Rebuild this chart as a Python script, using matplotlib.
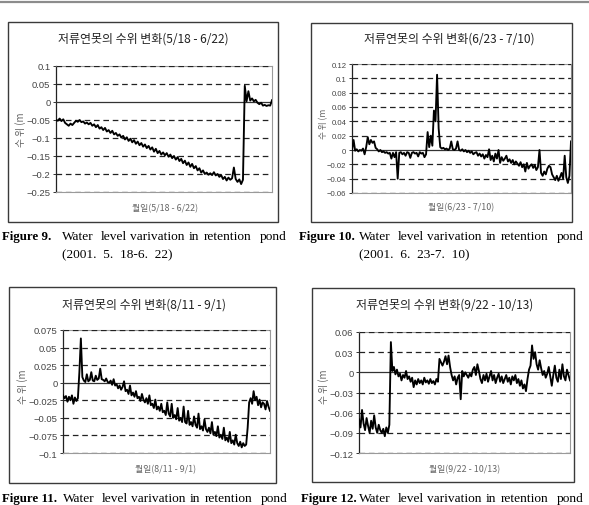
import matplotlib
matplotlib.use("Agg")
import matplotlib.pyplot as plt
from matplotlib.patches import Rectangle
from matplotlib.lines import Line2D

plt.rcParams['font.family'] = ['Noto Sans CJK KR', 'DejaVu Sans']
plt.rcParams['axes.unicode_minus'] = True

W, H = 589, 506

# ---------------- data ----------------
titles = ["저류연못의 수위 변화(5/18 - 6/22)", "저류연못의 수위 변화(6/23 - 7/10)",
          "저류연못의 수위 변화(8/11 - 9/1)", "저류연못의 수위 변화(9/22 - 10/13)"]
xlabels = ["월일(5/18 - 6/22)", "월일(6/23 - 7/10)", "월일(8/11 - 9/1)", "월일(9/22 - 10/13)"]
ylabel = "수 위 (m"
fig_nums = ["Figure 9.", "Figure 10.", "Figure 11.", "Figure 12."]
caption_words = ["Water", "level", "varivation", "in", "retention", "pond"]
dates = ["(2001.  5.  18-6.  22)", "(2001.  6.  23-7.  10)", "", ""]

yticks1 = [0.1, 0.05, 0, -0.05, -0.1, -0.15, -0.2, -0.25]
ylabels1 = ["0.1", "0.05", "0", "−0.05", "−0.1", "−0.15", "−0.2", "−0.25"]
yticks2 = [0.12, 0.1, 0.08, 0.06, 0.04, 0.02, 0, -0.02, -0.04, -0.06]
ylabels2 = ["0.12", "0.1", "0.08", "0.06", "0.04", "0.02", "0", "−0.02", "−0.04", "−0.06"]
yticks3 = [0.075, 0.05, 0.025, 0, -0.025, -0.05, -0.075, -0.1]
ylabels3 = ["0.075", "0.05", "0.025", "0", "−0.025", "−0.05", "−0.075", "−0.1"]
yticks4 = [0.06, 0.03, 0, -0.03, -0.06, -0.09, -0.12]
ylabels4 = ["0.06", "0.03", "0", "−0.03", "−0.06", "−0.09", "−0.12"]

level1 = [-0.050, -0.052, -0.046, -0.053, -0.048, -0.058, -0.062, -0.066, -0.060, -0.064,
          -0.058, -0.052, -0.055, -0.050, -0.056, -0.054, -0.060, -0.057, -0.062, -0.058,
          -0.066, -0.062, -0.070, -0.064, -0.074, -0.070, -0.078, -0.072, -0.082, -0.078,
          -0.086, -0.080, -0.090, -0.086, -0.094, -0.090, -0.099, -0.094, -0.104, -0.098,
          -0.108, -0.102, -0.112, -0.106, -0.116, -0.110, -0.120, -0.114, -0.124, -0.118,
          -0.128, -0.122, -0.132, -0.126, -0.138, -0.130, -0.142, -0.136, -0.146, -0.140,
          -0.148, -0.142, -0.152, -0.146, -0.156, -0.150, -0.160, -0.153, -0.164, -0.158,
          -0.170, -0.163, -0.175, -0.168, -0.180, -0.172, -0.184, -0.178, -0.190, -0.184,
          -0.196, -0.190, -0.200, -0.196, -0.202, -0.198, -0.203, -0.195, -0.204, -0.200,
          -0.208, -0.203, -0.214, -0.208, -0.218, -0.210, -0.216, -0.212, -0.182, -0.214,
          -0.222, -0.215, -0.228, -0.216, 0.045, 0.002, 0.030, 0.004, 0.010, 0.002,
          0.006, -0.002, -0.006, -0.002, -0.010, -0.008, -0.011, -0.009, -0.010, 0.005]

level2 = [0.000, 0.014, -0.001, 0.001, -0.002, 0.000, -0.001, 0.002, -0.006, 0.004,
          0.018, 0.008, 0.014, 0.010, 0.012, 0.003, 0.001, -0.002, 0.000, -0.003,
          -0.002, -0.004, -0.003, -0.005, -0.004, -0.012, -0.004, -0.010, -0.003, -0.040,
          -0.004, -0.003, -0.006, -0.004, -0.008, -0.003, -0.004, -0.011, -0.004, -0.003,
          -0.005, -0.004, -0.009, -0.003, -0.005, -0.004, -0.010, -0.006, 0.025, 0.004,
          0.020, 0.006, 0.055, 0.040, 0.105, 0.030, 0.004, 0.002, 0.003, 0.001,
          0.002, 0.000, 0.002, 0.012, 0.001, 0.000, 0.002, 0.012, 0.000, -0.001,
          0.001, -0.002, 0.000, -0.003, -0.001, -0.004, -0.002, -0.006, -0.004, -0.003,
          -0.008, -0.005, -0.009, -0.006, -0.012, -0.007, -0.010, 0.001, -0.014, -0.008,
          -0.016, -0.005, -0.012, 0.000, -0.018, -0.010, -0.015, -0.012, -0.008, -0.016,
          -0.013, -0.018, -0.014, -0.020, -0.016, -0.019, -0.022, -0.017, -0.024, -0.020,
          -0.030, -0.018, -0.026, -0.022, -0.020, -0.025, -0.021, -0.028, -0.024, 0.000,
          -0.032, -0.036, -0.030, -0.034, -0.026, -0.022, -0.024, -0.034, -0.038, -0.042,
          -0.036, -0.043, -0.038, -0.032, -0.040, -0.008, -0.038, -0.046, -0.036, 0.012]

level3 = [-0.018, -0.022, -0.019, -0.027, -0.020, -0.025, -0.018, -0.030, -0.021, -0.026,
          -0.022, 0.015, 0.063, 0.008, 0.003, 0.001, 0.012, 0.002, 0.004, 0.015,
          0.003, 0.002, 0.010, 0.004, 0.006, 0.020, 0.005, 0.004, 0.002, 0.006,
          0.001, 0.000, 0.003, -0.003, 0.005, -0.004, -0.002, -0.008, -0.004, -0.010,
          -0.006, 0.002, -0.012, -0.010, -0.016, -0.004, -0.018, -0.014, -0.020, -0.012,
          -0.022, -0.020, -0.026, -0.016, -0.024, -0.028, -0.022, -0.030, -0.018, -0.032,
          -0.030, -0.036, -0.024, -0.038, -0.034, -0.040, -0.030, -0.042, -0.040, -0.046,
          -0.028, -0.044, -0.048, -0.030, -0.050, -0.046, -0.052, -0.036, -0.054, -0.050,
          -0.056, -0.034, -0.056, -0.058, -0.040, -0.060, -0.056, -0.062, -0.048, -0.060,
          -0.064, -0.044, -0.066, -0.062, -0.068, -0.052, -0.066, -0.070, -0.064, -0.072,
          -0.056, -0.074, -0.070, -0.076, -0.062, -0.078, -0.074, -0.080, -0.064, -0.082,
          -0.078, -0.084, -0.070, -0.086, -0.082, -0.088, -0.074, -0.086, -0.090, -0.084,
          -0.092, -0.086, -0.090, -0.088, -0.064, -0.028, -0.022, -0.030, -0.012, -0.025,
          -0.020, -0.032, -0.024, -0.035, -0.028, -0.030, -0.038, -0.026, -0.034, -0.040]

level4 = [-0.070, -0.082, -0.056, -0.076, -0.086, -0.068, -0.080, -0.090, -0.072, -0.084,
          -0.064, -0.082, -0.090, -0.078, -0.086, -0.090, -0.084, -0.095, -0.082, -0.090,
          -0.078, 0.045, 0.002, 0.008, -0.003, 0.004, -0.006, -0.002, -0.012, -0.004,
          -0.008, 0.002, -0.010, -0.006, -0.014, -0.008, -0.022, -0.012, -0.018, -0.010,
          -0.016, -0.012, -0.018, -0.008, -0.015, -0.012, -0.017, -0.010, -0.016, -0.013,
          -0.018, -0.010, -0.014, 0.020, 0.015, 0.010, 0.016, 0.024, 0.012, 0.025,
          0.008, -0.004, -0.012, -0.006, -0.018, -0.008, -0.004, -0.040, 0.002, -0.006,
          0.000, -0.004, -0.008, -0.002, -0.006, 0.004, 0.008, -0.004, 0.012, 0.002,
          -0.010, -0.016, -0.004, -0.012, -0.002, -0.014, -0.006, 0.002, -0.012, -0.004,
          -0.016, -0.008, -0.002, -0.014, -0.006, -0.016, -0.010, -0.004, -0.014, -0.008,
          -0.018, -0.006, -0.012, -0.004, -0.016, -0.010, -0.020, -0.012, -0.024, -0.018,
          -0.028, -0.010, 0.004, 0.010, 0.040, 0.020, 0.030, 0.012, 0.004, 0.018,
          0.006, -0.004, 0.002, -0.008, -0.002, 0.008, -0.006, -0.020, -0.004, 0.010,
          -0.008, -0.014, 0.004, -0.010, 0.012, -0.006, -0.012, 0.004, -0.004, -0.012]

series = [level1, level2, level3, level4]
yticks = [yticks1, yticks2, yticks3, yticks4]
ylabs = [ylabels1, ylabels2, ylabels3, ylabels4]

# ---------------- layout (pixels) ----------------
axes_px = [(56, 67, 272, 193), (352, 65, 571, 194), (63, 331, 270, 454), (359, 333, 570, 454)]
box_px = [(8, 23, 278, 223), (311, 24, 572, 223), (9, 288, 276, 484), (312, 289, 574, 483)]
title_px = [(143, 39), (449, 39), (144, 305), (445, 305)]
xlab_px = [(165, 209), (461, 208), (166, 470), (465, 470)]
ylab_px = [(21, 130), (324, 124), (23, 387), (324, 387)]
tick_fs = [6.8, 5.6, 6.8, 6.8]
ylab_fs = [7.0, 6.2, 7.0, 7.0]
cap_px = [(2, 62, 237), (299, 359, 237), (2, 63, 499), (301, 359, 499)]
word_off = [0, 39, 68, 127, 142, 198]

fx = lambda x: x / W
fy = lambda y: 1 - y / H

fig = plt.figure(figsize=(W / 100, H / 100), dpi=100)
fig.patch.set_facecolor('white')

# top rule
fig.add_artist(Line2D([0, 1], [fy(3), fy(3)], transform=fig.transFigure,
                      color='#8c8c8c', lw=1.6))

for i in range(4):
    bx0, by0, bx1, by1 = box_px[i]
    fig.add_artist(Rectangle((fx(bx0), fy(by1)), fx(bx1) - fx(bx0), fy(by0) - fy(by1),
                             transform=fig.transFigure, fill=False,
                             edgecolor='#3a3a3a', lw=1.0))
    x0, y0, x1, y1 = axes_px[i]
    ax = fig.add_axes([fx(x0), fy(y1), fx(x1) - fx(x0), fy(y0) - fy(y1)])
    data = series[i]
    n = len(data)
    ax.plot(range(n), data, color='black', lw=1.35, zorder=5)
    ax.set_xlim(0, n - 1)
    yt = yticks[i]
    ax.set_ylim(min(yt), max(yt))
    ax.set_yticks(yt)
    ax.set_yticklabels(ylabs[i], fontfamily='Liberation Sans', fontsize=tick_fs[i], color='#444444')
    ax.set_xticks([])
    ax.tick_params(axis='y', length=2, width=0.7, pad=2, color='#333333')
    for v in yt:
        if v == 0:
            ax.axhline(v, color='#333333', lw=0.9, zorder=3)
        else:
            ax.axhline(v, color='#222222', lw=0.9, ls=(0, (4.5, 3)), zorder=3)
    for s in ['top', 'right', 'bottom']:
        ax.spines[s].set_color('#9a9a9a')
        ax.spines[s].set_linewidth(0.8)
    ax.spines['left'].set_color('#222222')
    ax.spines['left'].set_linewidth(0.9)

    tx, ty = title_px[i]
    fig.text(fx(tx), fy(ty), titles[i], ha='center', va='center', fontsize=8.6, color='#222222')
    lx, ly = xlab_px[i]
    fig.text(fx(lx), fy(ly), xlabels[i], ha='center', va='center', fontsize=6.4, color='#666666')
    yx, yy = ylab_px[i]
    fig.text(fx(yx), fy(yy), ylabel, ha='center', va='center', rotation=90,
             fontsize=ylab_fs[i], color='#666666')

    cx0, cx1, cy = cap_px[i]
    fig.text(fx(cx0), fy(cy), fig_nums[i], ha='left', va='center', fontsize=9.3,
             fontfamily='Liberation Serif', fontweight='bold', color='black')
    for w, off in zip(caption_words, word_off):
        fig.text(fx(cx1 + off), fy(cy), w, ha='left', va='center', fontsize=9.6,
                 fontfamily='Liberation Serif', color='black')
    if dates[i]:
        fig.text(fx(cx1), fy(cy + 18), dates[i], ha='left', va='center', fontsize=9.6,
                 fontfamily='Liberation Serif', color='black')

fig.savefig('out.png', dpi=100, facecolor='white')
